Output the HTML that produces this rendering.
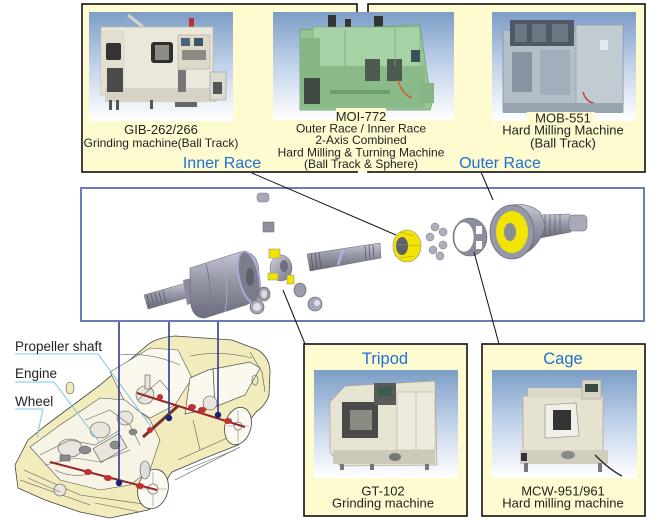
<!DOCTYPE html>
<html><head><meta charset="utf-8">
<style>
html,body{margin:0;padding:0;background:#fff;}
svg{display:block;}
text{font-family:"Liberation Sans","Noto Sans CJK JP",sans-serif;fill:#222;}
</style></head><body>
<svg width="650" height="520" viewBox="0 0 650 520" xmlns="http://www.w3.org/2000/svg">
<defs>
<linearGradient id="sky" x1="0" y1="0" x2="0" y2="1">
<stop offset="0" stop-color="#7d9dc6"/>
<stop offset="0.5" stop-color="#c2d3ea"/>
<stop offset="1" stop-color="#ffffff"/>
</linearGradient>
<linearGradient id="metal" x1="0" y1="0" x2="0" y2="1">
<stop offset="0" stop-color="#c4c6d4"/>
<stop offset="0.45" stop-color="#9496a6"/>
<stop offset="1" stop-color="#6a6c7c"/>
</linearGradient>
<linearGradient id="metal2" x1="0" y1="0" x2="1" y2="1">
<stop offset="0" stop-color="#d0d2de"/>
<stop offset="0.6" stop-color="#9a9cac"/>
<stop offset="1" stop-color="#70727f"/>
</linearGradient>
</defs>

<!-- ===== TOP PANELS ===== -->
<rect x="82" y="4" width="275" height="168" fill="#fffbd0" stroke="#111" stroke-width="1.6"/>
<rect x="368" y="4" width="277" height="168" fill="#fffbd0" stroke="#111" stroke-width="1.6"/>
<rect x="271" y="110" width="184" height="61" fill="#fffbd0"/>

<!-- GIB image -->
<rect x="89" y="12" width="144" height="109" fill="url(#sky)"/>
<line x1="128" y1="15" x2="143" y2="27" stroke="#d8d6cc" stroke-width="3"/>
<rect x="189" y="18" width="5" height="12" fill="#b83030"/>
<rect x="101" y="27" width="112" height="68" fill="#ebe7da" stroke="#bdb9ac" stroke-width="0.8"/>
<rect x="101" y="30" width="24" height="62" fill="#e2ded0"/>
<rect x="106" y="43" width="15" height="17" rx="2" fill="#333"/>
<rect x="151" y="42" width="22" height="21" rx="3" fill="#2e2e2e"/>
<rect x="155" y="45" width="14" height="15" fill="#8c8c84"/>
<rect x="178" y="35" width="32" height="34" fill="#dcd8ca" stroke="#b0ac9f" stroke-width="0.6"/>
<rect x="181" y="38" width="9" height="8" fill="#4f6378"/>
<rect x="194" y="38" width="9" height="8" fill="#3d5566"/>
<rect x="182" y="50" width="24" height="10" fill="#8e8b84"/>
<rect x="105" y="88" width="112" height="14" fill="#d6d2c4"/>
<rect x="107" y="68" width="16" height="24" fill="#4a4a4a"/>
<rect x="178" y="70" width="8" height="22" fill="#777"/>
<rect x="210" y="72" width="16" height="28" fill="#dddad0" stroke="#999" stroke-width="0.6"/>
<rect x="213" y="82" width="9" height="12" fill="#555"/>
<rect x="109" y="100" width="3" height="10" fill="#555"/><rect x="116" y="100" width="3" height="10" fill="#555"/>
<rect x="150" y="100" width="3" height="9" fill="#555"/><rect x="175" y="102" width="22" height="5" fill="#666"/>

<!-- MOI image -->
<rect x="273" y="12" width="181" height="108" fill="url(#sky)"/>
<rect x="328" y="15" width="8" height="14" fill="#333"/>
<rect x="345" y="19" width="6" height="11" fill="#333"/>
<rect x="374" y="16" width="9" height="14" fill="#333"/>
<polygon points="300,30 420,25 428,80 433,100 430,110 300,110" fill="#96c696" stroke="#6f9f6f" stroke-width="0.8"/>
<rect x="313" y="27" width="107" height="40" fill="#a6d3a6" stroke="#7aa87a" stroke-width="0.6"/>
<rect x="300" y="66" width="125" height="42" fill="#8ab98a"/>
<rect x="365" y="59" width="15" height="22" fill="#4c5a50"/>
<rect x="387" y="59" width="15" height="22" fill="#4c5a50"/>
<rect x="300" y="38" width="20" height="55" fill="#86b686"/>
<rect x="304" y="78" width="16" height="26" fill="#3f4a44"/>
<rect x="411" y="50" width="9" height="12" fill="#3e5060"/>
<rect x="420" y="83" width="14" height="20" fill="#86b686"/>
<path d="M398,80 Q402,94 412,98" stroke="#d06030" stroke-width="1.5" fill="none"/>
<rect x="330" y="90" width="60" height="4" fill="#6f9f6f"/>
<line x1="345" y1="30" x2="345" y2="66" stroke="#7aa87a" stroke-width="0.8"/>
<line x1="395" y1="28" x2="395" y2="66" stroke="#7aa87a" stroke-width="0.8"/>
<!-- MOB image -->
<rect x="492" y="12" width="144" height="109" fill="url(#sky)"/>
<rect x="503" y="30" width="120" height="82" fill="#b4bec8" stroke="#8593a2" stroke-width="0.8"/>
<rect x="510" y="20" width="64" height="26" fill="#4f5965"/>
<rect x="515" y="24" width="12" height="18" fill="#6b7683"/><rect x="532" y="24" width="14" height="18" fill="#6b7683"/><rect x="552" y="24" width="16" height="18" fill="#6b7683"/>
<rect x="576" y="25" width="47" height="82" fill="#c2cad2" stroke="#8a97a5" stroke-width="0.6"/>
<rect x="512" y="52" width="20" height="40" fill="#8894a2"/>
<rect x="540" y="50" width="30" height="45" fill="#a2aebb"/>
<rect x="600" y="40" width="8" height="10" fill="#e2e8ee"/>
<path d="M583,92 Q586,102 594,103" stroke="#c84030" stroke-width="1.4" fill="none"/>
<rect x="503" y="103" width="120" height="10" fill="#98a4b0"/>

<!-- label backgrounds -->
<rect x="336" y="108" width="50" height="13" fill="#fffbd0"/>
<rect x="527" y="112" width="68" height="13" fill="#fffbd0"/>

<!-- top texts -->
<text x="161" y="134" font-size="13" text-anchor="middle">GIB-262/266</text>
<text x="161" y="147" font-size="12" text-anchor="middle">Grinding machine(Ball Track)</text>
<text x="222" y="168" font-size="16" text-anchor="middle" style="fill:#1d6ed8">Inner Race</text>

<text x="361" y="121" font-size="13" text-anchor="middle">MOI-772</text>
<text x="361" y="132.5" font-size="12" text-anchor="middle">Outer Race / Inner Race</text>
<text x="361" y="144" font-size="12" text-anchor="middle">2-Axis Combined</text>
<text x="361" y="156.5" font-size="12" text-anchor="middle">Hard Milling &amp; Turning Machine</text>
<text x="361" y="168" font-size="12" text-anchor="middle">(Ball Track &amp; Sphere)</text>

<text x="563" y="122.5" font-size="13" text-anchor="middle">MOB-551</text>
<text x="563" y="134.5" font-size="13" text-anchor="middle">Hard Milling Machine</text>
<text x="563" y="147.5" font-size="13" text-anchor="middle">(Ball Track)</text>
<text x="500" y="168" font-size="16" text-anchor="middle" style="fill:#1d6ed8">Outer Race</text>

<!-- ===== MIDDLE PANEL ===== -->
<rect x="81" y="188" width="563" height="133" fill="#fff" stroke="#6a7cb4" stroke-width="2"/>

<!-- inner housing shaft -->
<polygon points="144,295 186,283 190,297 148,309" fill="url(#metal)" stroke="#666" stroke-width="0.5"/>
<g stroke="#5a5c68" stroke-width="0.8">
<line x1="147" y1="295" x2="150" y2="307"/><line x1="151" y1="294" x2="154" y2="306"/><line x1="155" y1="293" x2="158" y2="305"/><line x1="159" y1="292" x2="162" y2="304"/><line x1="163" y1="291" x2="166" y2="303"/>
</g>
<polygon points="183,280 192,278 196,302 187,305" fill="#8a8c9c"/>
<path d="M190,268 L240,252 Q259,250 259,275 Q259,300 246,305 L205,318 Q190,319 190,295 Z" fill="url(#metal)" stroke="#6c6e7c" stroke-width="0.6"/>
<path d="M206,264 Q213,290 208,317" stroke="#777988" stroke-width="1" fill="none"/>
<path d="M222,259 Q230,285 225,312" stroke="#a8aac0" stroke-width="1" fill="none"/>
<ellipse cx="249" cy="277" rx="10" ry="26" transform="rotate(-12 249 277)" fill="#7b7d8c" stroke="#aaa8d8" stroke-width="2"/>
<ellipse cx="250" cy="277" rx="4" ry="9" fill="#5e606c"/>

<!-- small parts -->
<rect x="257" y="193" width="12" height="9" rx="3" fill="#a6a8ba" stroke="#777" stroke-width="0.5"/>
<rect x="263" y="222" width="11" height="10" fill="#8e90a0" stroke="#666" stroke-width="0.5"/>
<!-- tripod -->
<ellipse cx="281" cy="268" rx="11" ry="13" fill="url(#metal2)" stroke="#666" stroke-width="0.5"/>
<ellipse cx="284" cy="266" rx="4" ry="6" fill="#6e7080"/>
<rect x="269" y="249" width="11" height="9" fill="#f0e400" stroke="#888" stroke-width="0.5"/>
<rect x="268" y="273" width="10" height="7" fill="#f0e400" stroke="#888" stroke-width="0.5"/>
<rect x="287" y="275" width="7" height="9" fill="#f0e400" stroke="#888" stroke-width="0.5"/>
<ellipse cx="264" cy="294" rx="6" ry="7" fill="#9a9caa" stroke="#555" stroke-width="0.6"/>
<ellipse cx="264" cy="294" rx="3" ry="4" fill="#dcdce8"/>
<ellipse cx="257" cy="307" rx="7" ry="7" fill="#a4a6b6" stroke="#555" stroke-width="0.6"/>
<ellipse cx="257" cy="307" rx="4" ry="4" fill="#e0e0ea"/>
<ellipse cx="300" cy="290" rx="6" ry="7" fill="#9a9caa" stroke="#555" stroke-width="0.6"/>
<ellipse cx="315" cy="304" rx="7" ry="7" fill="#a4a6ba" stroke="#555" stroke-width="0.6"/>
<ellipse cx="317" cy="303" rx="3" ry="3" fill="#e0e0f0"/>

<!-- middle shaft -->
<polygon points="307,254 380,243 381,258 310,271" fill="url(#metal)" stroke="#666" stroke-width="0.5"/>
<g stroke="#5a5c68" stroke-width="0.8">
<line x1="311" y1="254" x2="313" y2="270"/><line x1="315" y1="253" x2="317" y2="269"/><line x1="319" y1="253" x2="321" y2="268"/><line x1="365" y1="246" x2="366" y2="260"/><line x1="369" y1="245" x2="370" y2="259"/><line x1="373" y1="245" x2="374" y2="259"/>
</g>
<path d="M343,250 Q340,258 338,265" stroke="#b0aee0" stroke-width="2.5" fill="none"/>

<!-- inner race -->
<ellipse cx="407" cy="246" rx="14" ry="16" fill="#f2e400" stroke="#888" stroke-width="0.6"/>
<ellipse cx="402" cy="246" rx="6" ry="9" fill="#5e606e"/>
<g stroke="#a09a30" stroke-width="0.6"><line x1="400" y1="232" x2="414" y2="236"/><line x1="396" y1="244" x2="420" y2="246"/><line x1="400" y1="258" x2="414" y2="256"/></g>

<!-- balls -->
<g fill="#aeb0bc" stroke="#70727e" stroke-width="0.5">
<circle cx="435" cy="227" r="4"/><circle cx="443" cy="232" r="4"/><circle cx="430" cy="237" r="4"/>
<circle cx="433" cy="250" r="4"/><circle cx="443" cy="245" r="4"/><circle cx="440" cy="256" r="4"/>
</g>
<!-- cage -->
<ellipse cx="470" cy="237" rx="17" ry="19" fill="#8c8e9e" stroke="#5e606c" stroke-width="0.6"/>
<ellipse cx="464" cy="237" rx="10" ry="15" fill="#fff" stroke="#777" stroke-width="0.5"/>
<rect x="476" y="226" width="6" height="8" fill="#fff"/><rect x="476" y="241" width="6" height="8" fill="#fff"/>
<!-- outer race -->
<polygon points="540,215 570,214 571,232 540,238" fill="url(#metal)" stroke="#666" stroke-width="0.5"/>
<g stroke="#5a5c68" stroke-width="0.7"><line x1="545" y1="215" x2="545" y2="236"/><line x1="550" y1="215" x2="550" y2="235"/><line x1="555" y1="215" x2="555" y2="234"/><line x1="560" y1="214" x2="560" y2="233"/></g>
<rect x="569" y="215" width="18" height="16" rx="4" fill="#a8aab8" stroke="#666" stroke-width="0.5"/>
<path d="M505,207 Q525,200 540,212 L545,225 Q540,250 515,258 Z" fill="url(#metal)" stroke="#6c6e7c" stroke-width="0.6"/>
<ellipse cx="512" cy="232" rx="22" ry="27" fill="#9698a8" stroke="#6a6c7a" stroke-width="0.8"/>
<ellipse cx="512" cy="232" rx="16" ry="21" fill="#f0e400"/>
<ellipse cx="510" cy="232" rx="6" ry="9" fill="#8a8c98"/>

<!-- connector lines -->
<g stroke="#111" stroke-width="1" fill="none">
<line x1="252" y1="173" x2="396" y2="235"/>
<line x1="481" y1="172" x2="493" y2="200"/>
<line x1="474" y1="252" x2="499" y2="344"/>
<line x1="283" y1="290" x2="305" y2="344"/>
</g>

<!-- ===== CAR ===== -->
<path d="M15,465 L28,440 L45,426 L100,385 L150,343 Q160,337 175,336 L232,340 L258,350 Q270,358 270,372 L269,395 Q266,405 256,412 L250,420 Q248,438 238,445 L205,458 L172,472 Q165,480 164,495 Q160,505 148,510 L110,518 L80,512 L45,500 L18,488 Z" fill="#f2ebbb" stroke="#444" stroke-width="0.8"/>
<!-- windshield -->
<polygon points="110,372 150,348 178,350 192,378 175,405 150,418 125,402" fill="#fbf9ee" stroke="#555" stroke-width="0.6"/>
<!-- side windows -->
<polygon points="190,378 208,370 250,362 260,368 245,395 212,408 185,414" fill="#fbf9ee" stroke="#555" stroke-width="0.7"/>
<line x1="213" y1="368" x2="215" y2="408" stroke="#555" stroke-width="0.8"/>
<!-- engine bay -->
<polygon points="30,447 60,425 100,398 125,400 150,420 160,440 150,470 130,485 100,490 60,480" fill="#f7f4e6" stroke="#555" stroke-width="0.6"/>
<!-- body lines -->
<g stroke="#555" stroke-width="0.6" fill="none">
<path d="M175,480 L240,447"/>
<path d="M178,460 L245,430"/>
<path d="M24,470 L80,495 L150,505"/>
<path d="M20,480 L90,505"/>
<path d="M250,352 L262,372 L265,392"/>
<ellipse cx="255" cy="380" rx="3" ry="5"/>
<ellipse cx="70" cy="388" rx="4" ry="6" fill="#f2ebbb"/>
</g>
<!-- engine parts -->
<g stroke="#555" stroke-width="0.6" fill="#e8e6dc">
<ellipse cx="70" cy="448" rx="12" ry="9"/>
<ellipse cx="100" cy="430" rx="10" ry="8"/>
<rect x="95" y="440" width="30" height="16" transform="rotate(-30 110 448)"/>
<ellipse cx="125" cy="418" rx="8" ry="7"/>
<circle cx="60" cy="490" r="6"/>
<circle cx="145" cy="395" r="9"/>
<circle cx="210" cy="403" r="7"/>
<rect x="145" y="375" width="5" height="14"/>
</g>
<!-- extra car line art -->
<g stroke="#666" stroke-width="0.6" fill="none">
<path d="M40,455 L70,440 L95,445 L120,430"/>
<path d="M45,465 L75,458 L100,462 L130,450"/>
<path d="M85,420 L110,410 L130,425 L140,445"/>
<path d="M55,470 Q70,478 90,474"/>
<path d="M28,478 L60,492"/>
<path d="M120,355 Q150,352 180,365"/>
<path d="M190,356 Q220,350 252,358"/>
<path d="M193,420 L200,450"/>
<path d="M230,412 L236,440"/>
<path d="M185,470 L235,450"/>
<path d="M95,503 L140,512"/>
<path d="M138,400 L160,380 L170,392"/>
</g>
<g fill="#8a8a8a" stroke="#555" stroke-width="0.5">
<ellipse cx="85" cy="450" rx="6" ry="4"/>
<ellipse cx="115" cy="445" rx="5" ry="4"/>
<rect x="60" y="455" width="10" height="6"/>
<ellipse cx="133" cy="432" rx="4" ry="3"/>
</g>
<!-- wheels -->
<g stroke="#444" stroke-width="0.8" fill="#fbfaf2">
<ellipse cx="153" cy="489" rx="15" ry="20" transform="rotate(15 153 489)"/>
<ellipse cx="238" cy="426" rx="13" ry="19" transform="rotate(15 238 426)"/>
</g>
<g stroke="#888" stroke-width="0.6">
<line x1="153" y1="472" x2="153" y2="506"/><line x1="140" y1="489" x2="166" y2="489"/>
<line x1="238" y1="410" x2="238" y2="442"/><line x1="227" y1="426" x2="249" y2="426"/>
</g>
<circle cx="153" cy="489" r="5" fill="#fbfaf2" stroke="#777" stroke-width="0.8"/>
<circle cx="238" cy="426" r="4" fill="#fbfaf2" stroke="#777" stroke-width="0.8"/>
<ellipse cx="145" cy="470" rx="5" ry="9" fill="#ddd" stroke="#555" stroke-width="0.6"/>
<!-- axles -->
<g stroke="#962828" stroke-width="2" fill="none">
<line x1="50" y1="462" x2="157" y2="490"/>
<line x1="137" y1="393" x2="245" y2="427"/>
</g>
<line x1="143" y1="437" x2="178" y2="406" stroke="#7a3030" stroke-width="3"/>
<g fill="#c03030">
<ellipse cx="88" cy="472" rx="4" ry="3"/><ellipse cx="108" cy="478" rx="4" ry="3"/><ellipse cx="140" cy="486" rx="4" ry="3"/>
<ellipse cx="150" cy="430" rx="3" ry="3"/><ellipse cx="192" cy="407" rx="4" ry="3"/><ellipse cx="202" cy="410" rx="4" ry="3"/><ellipse cx="228" cy="421" rx="4" ry="3"/><ellipse cx="160" cy="397" rx="3" ry="3"/>
</g>

<!-- light blue leaders -->
<g stroke="#78c6ec" stroke-width="1" fill="none">
<polyline points="15,354 98,354 152,428"/>
<polyline points="15,382 54,382 100,443"/>
<polyline points="15,409 43,409 37,437"/>
</g>
<text x="15" y="351" font-size="13.5">Propeller shaft</text>
<text x="15" y="378" font-size="13.5">Engine</text>
<text x="15" y="406" font-size="13.5">Wheel</text>

<!-- blue pointer lines -->
<g stroke="#2e3e92" stroke-width="1.6">
<line x1="119" y1="322" x2="119" y2="483"/>
<line x1="169" y1="322" x2="169" y2="418"/>
<line x1="218" y1="322" x2="218" y2="415"/>
</g>
<g fill="#14247a">
<circle cx="119" cy="483" r="3.2"/><circle cx="169" cy="418" r="3.2"/><circle cx="218" cy="415" r="3.2"/>
</g>

<!-- ===== BOTTOM PANELS ===== -->
<rect x="304" y="344" width="163" height="172" fill="#fffbd0" stroke="#111" stroke-width="1.6"/>
<rect x="482" y="344" width="163" height="172" fill="#fffbd0" stroke="#111" stroke-width="1.6"/>
<text x="385" y="364" font-size="16.5" text-anchor="middle" style="fill:#1d6ed8">Tripod</text>
<text x="563" y="364" font-size="16.5" text-anchor="middle" style="fill:#1d6ed8">Cage</text>

<!-- GT-102 image -->
<rect x="314" y="370" width="144" height="108" fill="url(#sky)"/>
<polygon points="330,402 345,386 435,381 437,465 340,466 330,452" fill="#e8e4d2" stroke="#aaa696" stroke-width="0.7"/>
<rect x="342" y="402" width="36" height="36" fill="#4a4a4a"/>
<rect x="350" y="410" width="22" height="20" fill="#8a8a82"/>
<rect x="374" y="383" width="22" height="22" fill="#5a5a5a"/>
<rect x="378" y="387" width="14" height="9" fill="#3c5c4c"/>
<rect x="397" y="392" width="38" height="58" fill="#efebdc" stroke="#b2ae9e" stroke-width="0.6"/>
<line x1="416" y1="392" x2="416" y2="450" stroke="#b2ae9e" stroke-width="0.6"/>
<rect x="333" y="450" width="102" height="14" fill="#cdc9b9"/>
<rect x="340" y="464" width="4" height="6" fill="#777"/><rect x="370" y="464" width="4" height="6" fill="#777"/><rect x="425" y="464" width="4" height="6" fill="#777"/>
<ellipse cx="395" cy="457" rx="6" ry="4" fill="#777"/>

<!-- MCW image -->
<rect x="492" y="370" width="145" height="108" fill="url(#sky)"/>
<rect x="523" y="396" width="80" height="58" fill="#e6e2d0" stroke="#aaa696" stroke-width="0.7"/>
<rect x="528" y="388" width="55" height="10" fill="#dcd8c6"/>
<polygon points="545,405 576,403 579,436 545,438" fill="#f2f0e6" stroke="#888" stroke-width="0.6"/>
<rect x="553" y="410" width="18" height="20" fill="#333"/>
<rect x="582" y="380" width="19" height="19" fill="#d8d4c4" stroke="#999" stroke-width="0.5"/>
<rect x="585" y="384" width="13" height="8" fill="#3a4a40"/>
<rect x="520" y="450" width="88" height="14" fill="#d2cebe"/>
<rect x="524" y="463" width="4" height="9" fill="#777"/><rect x="598" y="463" width="4" height="9" fill="#777"/>
<ellipse cx="568" cy="455" rx="7" ry="4" fill="#888"/>
<path d="M595,455 Q610,470 622,476" stroke="#222" stroke-width="1.3" fill="none"/>
<rect x="521" y="453" width="6" height="8" fill="#333"/>

<text x="383" y="495.5" font-size="13" text-anchor="middle">GT-102</text>
<text x="383" y="507.5" font-size="13" text-anchor="middle">Grinding machine</text>
<text x="563" y="495.5" font-size="13" text-anchor="middle">MCW-951/961</text>
<text x="563" y="507.5" font-size="13" text-anchor="middle">Hard milling machine</text>
</svg>
</body></html>
